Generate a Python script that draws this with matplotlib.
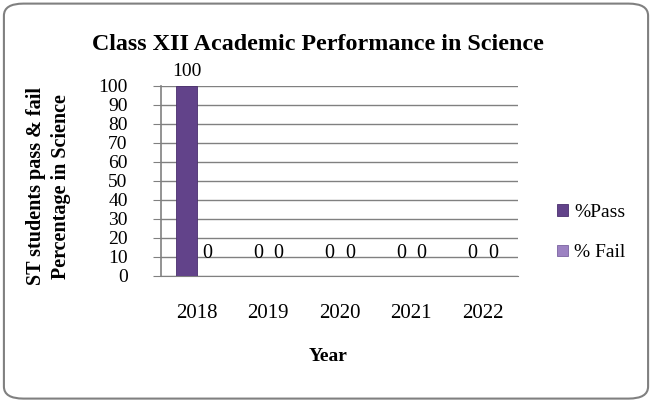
import numpy as np
import matplotlib.pyplot as plt
from matplotlib.patches import FancyBboxPatch

years = ['2018', '2019', '2020', '2021', '2022']
pass_pct = [100, 0, 0, 0, 0]
fail_pct = [0, 0, 0, 0, 0]

plt.rcParams['font.family'] = ['Liberation Serif', 'DejaVu Serif']

fig = plt.figure(figsize=(6.52, 4.01), dpi=100)
fig.patches.append(FancyBboxPatch((0.006, 0.006), 0.988, 0.985,
                                  boxstyle='round,pad=0,rounding_size=0.03',
                                  transform=fig.transFigure, fill=False,
                                  edgecolor='#808080', linewidth=1.5))

ax = fig.add_axes([0.247, 0.312, 0.548, 0.474])
x = np.arange(len(years))
w = 0.29
b1 = ax.bar(x - 0.145, pass_pct, w, color='#62438A', edgecolor='#4a2f6e',
            linewidth=0.6, label='%Pass', zorder=3)
b2 = ax.bar(x + 0.145, fail_pct, w, color='#9C82C2', edgecolor='#7a62a0',
            linewidth=0.6, label='% Fail', zorder=3)

# data labels (Excel puts the zero labels a little above the axis)
for xi, v in zip(x - 0.145, pass_pct):
    if v > 0:
        ax.text(xi, v + 3, str(v), ha='center', va='bottom', fontsize=14)
    else:
        ax.text(xi, 12, str(v), ha='center', va='center', fontsize=14.5)
for xi, v in zip(x + 0.145, fail_pct):
    ax.text(xi, v + 12, str(v), ha='center', va='center', fontsize=14.5)

ax.set_xlim(-0.5, len(years) - 0.5)
ax.set_ylim(0, 100)
ax.set_yticks(range(0, 101, 10))
ax.set_xticks(x)
ax.set_xticklabels(years)
ax.tick_params(axis='x', length=0, labelsize=15, pad=20)
ax.tick_params(axis='y', length=6, direction='out', labelsize=14, pad=18,
               color='#808080')
ax.yaxis.grid(True, color='#808080', linewidth=1.0, zorder=0)
for s in ['top', 'right']:
    ax.spines[s].set_visible(False)
ax.spines['left'].set_color('#808080')
ax.spines['bottom'].set_color('#808080')
ax.spines['left'].set_linewidth(1.2)

fig.text(0.074, 0.535, 'ST students pass & fail\nPercentage in Science',
         rotation=90, ha='center', va='center', fontsize=14.5,
         fontweight='bold', linespacing=1.35)
fig.text(0.503, 0.11, 'Year', ha='center', va='center', fontsize=14,
         fontweight='bold')

fig.text(0.488, 0.888, 'Class XII Academic Performance in Science', ha='center',
         va='center', fontsize=17.3, fontweight='bold')

fig.legend(handles=[b1, b2], labels=['%Pass', '% Fail'], loc='center left',
           bbox_to_anchor=(0.854, 0.42), frameon=False, fontsize=14,
           handlelength=0.55, handleheight=0.55, handletextpad=0.35,
           labelspacing=1.2, borderpad=0, borderaxespad=0)

fig.savefig('out.png', dpi=100)
